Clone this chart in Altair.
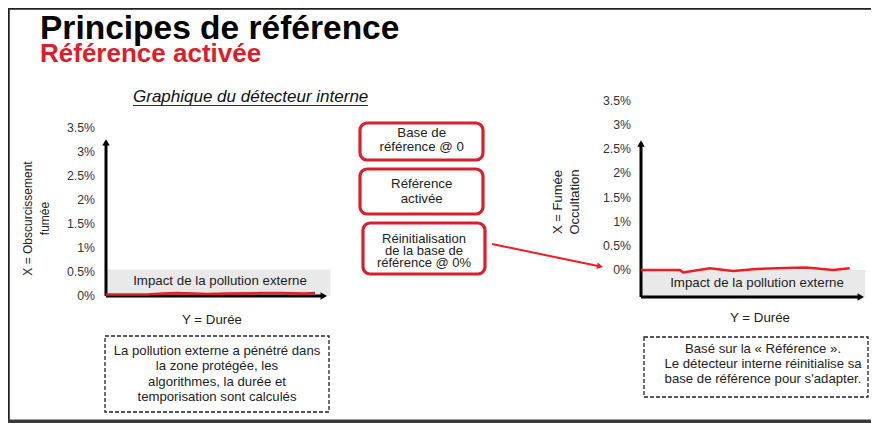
import altair as alt
import pandas as pd

W, H = 863, 415
FONT = "Liberation Sans"
RED = "#d81f2d"
LINE_RED = "#ee1c24"
INK = "#222222"

# ---------------- data ----------------
tick_values = [0, 0.5, 1, 1.5, 2, 2.5, 3, 3.5]
tick_labels = ["0%", "0.5%", "1%", "1.5%", "2%", "2.5%", "3%", "3.5%"]

left_time = [0, 1.0, 1.85, 2.6, 3.2, 4.0, 4.6, 5.5, 7.0, 8.0, 9.0, 9.5]
left_smoke = [0.03, 0.03, 0.03, 0.05, 0.06, 0.05, 0.04, 0.05, 0.06, 0.06, 0.05, 0.06]

right_time = [0, 1.75, 1.9, 3.1, 4.15, 5.2, 6.5, 7.45, 8.65, 9.4]
right_smoke = [0.0, 0.0, -0.05, 0.035, -0.02, 0.02, 0.04, 0.05, 0.0, 0.035]

left_zone = {"t0": 0, "t1": 10.2, "v0": 0, "v1": 0.55}
right_zone = {"t0": 0, "t1": 10.1, "v0": -0.56, "v1": 0}

left_axis = {"t0": 0, "t_end": 9.9, "v_top": 3.2, "v_base": 0}
right_axis = {"t0": 0, "t_end": 9.9, "v_top": 2.62, "v_base": -0.56}

# ---------------- scales (each mini chart placed on the slide) ----------------
LX = alt.Scale(domain=[0, 10], range=[98, 318], nice=False, zero=False)
LY = alt.Scale(domain=[0, 3.5], range=[288, 120], nice=False, zero=False)
RX = alt.Scale(domain=[0, 10], range=[633, 855], nice=False, zero=False)
RY = alt.Scale(domain=[0, 3.5], range=[262, 93], nice=False, zero=False)

one = pd.DataFrame({"k": [0]})


def txt(text, x, y, size, align="center", baseline="middle", **kw):
    return alt.Chart(one).mark_text(
        text=text, font=FONT, fontSize=size, align=align, baseline=baseline,
        color=kw.pop("color", INK), **kw
    ).encode(x=alt.value(x), y=alt.value(y))


def box(x0, x1, y0, y1, **kw):
    return alt.Chart(one).mark_rect(**kw).encode(
        x=alt.value(x0), x2=alt.value(x1), y=alt.value(y0), y2=alt.value(y1)
    )


def rule(x0, x1, y0, y1, **kw):
    return alt.Chart(one).mark_rule(**kw).encode(
        x=alt.value(x0), x2=alt.value(x1), y=alt.value(y0), y2=alt.value(y1)
    )


def mini_chart(XS, YS, zone, axis, times, values, label_x, impact_xy):
    layers = []
    zdf = pd.DataFrame([zone])
    layers.append(
        alt.Chart(zdf).mark_rect(color="#e9e9e9").encode(
            x=alt.X("t0:Q", scale=XS, axis=None),
            x2="t1:Q",
            y=alt.Y("v0:Q", scale=YS, axis=None),
            y2="v1:Q",
        )
    )
    layers.append(txt("Impact de la pollution externe", impact_xy[0], impact_xy[1], 13.3))
    tdf = pd.DataFrame({"v": tick_values, "lab": tick_labels})
    layers.append(
        alt.Chart(tdf).mark_text(font=FONT, fontSize=12.3, align="right", baseline="middle", color="#333333").encode(
            x=alt.value(label_x),
            y=alt.Y("v:Q", scale=YS, axis=None),
            text="lab:N",
        )
    )
    adf = pd.DataFrame([axis])
    layers.append(
        alt.Chart(adf).mark_rule(color="black", strokeWidth=3).encode(
            x=alt.X("t0:Q", scale=XS, axis=None),
            y=alt.Y("v_base:Q", scale=YS, axis=None),
            y2="v_top:Q",
        )
    )
    layers.append(
        alt.Chart(adf).mark_rule(color="black", strokeWidth=3).encode(
            x=alt.X("t0:Q", scale=XS, axis=None),
            x2="t_end:Q",
            y=alt.Y("v_base:Q", scale=YS, axis=None),
        )
    )
    layers.append(
        alt.Chart(adf).mark_point(shape="triangle-up", filled=True, color="black", size=55, opacity=1).encode(
            x=alt.X("t0:Q", scale=XS, axis=None),
            y=alt.Y("v_top:Q", scale=YS, axis=None),
        )
    )
    layers.append(
        alt.Chart(adf).mark_point(shape="triangle-right", filled=True, color="black", size=55, opacity=1).encode(
            x=alt.X("t_end:Q", scale=XS, axis=None),
            y=alt.Y("v_base:Q", scale=YS, axis=None),
        )
    )
    ldf = pd.DataFrame({"t": times, "v": values})
    layers.append(
        alt.Chart(ldf).mark_line(color=LINE_RED, strokeWidth=2.5).encode(
            x=alt.X("t:Q", scale=XS, axis=None),
            y=alt.Y("v:Q", scale=YS, axis=None),
        )
    )
    return layers


layers = []

# slide frame
layers.append(rule(0.5, 0.5, 0, H, color="#222222", strokeWidth=2.5))
layers.append(rule(0, W, 0.3, 0.3, color="#222222", strokeWidth=3))
layers.append(rule(0, W, H - 1.6, H - 1.6, color="#3a3a3a", strokeWidth=3.6))

# titles
layers.append(txt("Principes de référence", 32, 31, 33.5, align="left", baseline="alphabetic",
                  fontWeight="bold", color="#000000"))
layers.append(txt("Référence activée", 32, 53.5, 26, align="left", baseline="alphabetic",
                  fontWeight="bold", color=RED))
layers.append(txt("Graphique du détecteur interne", 125, 94, 17, align="left", baseline="alphabetic",
                  fontStyle="italic", color="#111111"))
layers.append(rule(125, 360, 97.5, 97.5, color="#333333", strokeWidth=1))

# left mini chart
layers += mini_chart(LX, LY, left_zone, left_axis, left_time, left_smoke, 87, (212, 273))
layers.append(txt("Y = Durée", 204, 312, 13.3))
layers.append(txt(["X = Obscurcissement", "fumée"], 20, 210.5, 12, angle=270, lineHeight=17))

# right mini chart
layers += mini_chart(RX, RY, right_zone, right_axis, right_time, right_smoke, 623, (749, 275))
layers.append(txt("Y = Durée", 752, 310, 13.3))
layers.append(txt(["X = Fumée", "Occultation"], 550, 194, 13, angle=270, lineHeight=17))

# middle red boxes
for (x0, x1, y0, y1) in [(352, 475, 115, 152), (352, 475, 161, 206), (355, 477, 215, 266)]:
    layers.append(box(x0, x1, y0, y1, fill="white", stroke=RED, strokeWidth=3.2, cornerRadius=7))
layers.append(txt(["Base de", "référence @ 0"], 413.7, 125, 13.3, lineHeight=14))
layers.append(txt(["Référence", "activée"], 413.7, 176, 13.3, lineHeight=15))
layers.append(txt(["Réinitialisation", "de la base de", "référence @ 0%"], 416, 231, 13, lineHeight=11.8))

# red arrow
layers.append(rule(484, 590, 236, 258, color=LINE_RED, strokeWidth=2))
layers.append(
    alt.Chart(one).mark_point(shape="triangle-right", filled=True, color=LINE_RED, size=45, angle=11.7, opacity=1)
    .encode(x=alt.value(592), y=alt.value(258.4))
)

# dashed notes
layers.append(box(97, 321, 328, 404, fillOpacity=0, stroke="#222222", strokeWidth=1.3, strokeDash=[4, 2]))
layers.append(txt(["La pollution externe a pénétré dans", "la zone protégée, les",
                   "algorithmes, la durée et", "temporisation sont calculés"], 209, 343, 13.2, lineHeight=15.3))
layers.append(box(636, 860, 329, 389, fillOpacity=0, stroke="#222222", strokeWidth=1.3, strokeDash=[4, 2]))
layers.append(txt(["Basé sur la « Référence ».", "Le détecteur interne réinitialise sa",
                   "base de référence pour s'adapter."], 755, 341, 13.2, lineHeight=15))

chart = alt.layer(*layers).resolve_scale(x="independent", y="independent").properties(
    width=W, height=H, padding=0, autosize="none", background="white"
).configure_view(strokeWidth=0)

chart.save("out.html", embed_options={"renderer": "svg", "actions": False})
